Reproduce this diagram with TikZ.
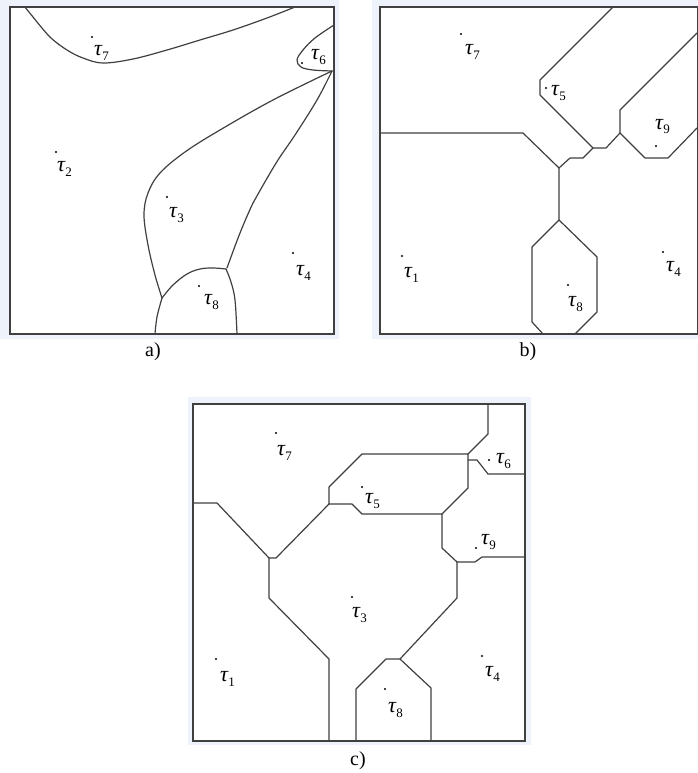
\documentclass[tikz,border=0pt]{standalone}
\usepackage{fontspec}
\setmainfont{Liberation Serif}
\definecolor{bandblue}{RGB}{238,242,250}
\definecolor{edgegray}{RGB}{64,64,64}
% seed label: italic tau with a lowered upright index
\newcommand{\seedlab}[1]{{\itshape τ}\kern0.3pt\raisebox{-5pt}{\fontsize{13}{13}\selectfont #1}}
\begin{document}
\begin{tikzpicture}[x=1pt,y=-1pt,
  cell/.style={draw=edgegray, line width=1.2pt, line join=round, line cap=round},
  framebox/.style={draw=edgegray, line width=1.3pt, fill=white},
  band/.style={fill=bandblue, draw=none},
  seed/.style={circle, fill=black, inner sep=0pt, minimum size=2.4pt},
  lbl/.style={anchor=base west, inner sep=0pt, font=\fontsize{22}{24}\selectfont},
  captext/.style={font=\fontsize{20}{22}\selectfont, inner sep=0pt}]
\useasboundingbox (0,0) rectangle (698,773);

% ---------- panel a: curved cells ----------
\fill[band] (0,0) rectangle (339,339);
\draw[framebox] (10,7) rectangle (334,334);
\draw[cell] plot[smooth, tension=0.6] coordinates {(25,7) (33,17) (50,37) (67,50) (83,58) (103,63) (133,59) (167,50) (200,40) (233,30) (267,18) (295,7)};
\draw[cell] plot[smooth, tension=0.6] coordinates {(334,25) (315,38) (303,50) (297,60) (301,67) (313,70) (332,71)};
\draw[cell] plot[smooth, tension=0.6] coordinates {(332,71) (273,100) (220,130) (185,152) (160,173) (148,193) (144,215) (148,245) (155,275) (162,298)};
\draw[cell] plot[smooth, tension=0.6] coordinates {(332,71) (317,100) (295,135) (278,160) (262,187) (253,203) (240,233) (227,268)};
\draw[cell] plot[smooth, tension=0.6] coordinates {(162,298) (173,285) (187,274) (200,269) (213,268) (226,269)};
\draw[cell] plot[smooth, tension=0.6] coordinates {(162,298) (157,317) (155,334)};
\draw[cell] plot[smooth, tension=0.6] coordinates {(226,269) (231,282) (235,300) (237,334)};

\node[seed] (as7) at (92,37) {};  \node[lbl] (at7) at (94,56)  {\seedlab{7}};
\node[seed] (as6) at (302,63) {}; \node[lbl] (at6) at (311,60) {\seedlab{6}};
\node[seed] (as2) at (56,152) {}; \node[lbl] (at2) at (57,171) {\seedlab{2}};
\node[seed] (as3) at (167,197) {};\node[lbl] (at3) at (169,217) {\seedlab{3}};
\node[seed] (as4) at (293,253) {};\node[lbl] (at4) at (296,275) {\seedlab{4}};
\node[seed] (as8) at (199,286) {};\node[lbl] (at8) at (204,304) {\seedlab{8}};
\node[captext] (capa) at (153,352) {a)};

% ---------- panel b: polygonal cells ----------
\fill[band] (372,0) rectangle (698,339);
\draw[framebox] (380,7) rectangle (697.4,334);
\draw[cell] (380,133) -- (523,133) -- (559,168) -- (559,220);
\draw[cell] (559,168) -- (570,158) -- (583,158) -- (593,148) -- (606,148) -- (620,133);
\draw[cell] (593,148) -- (540,95) -- (540,80) -- (613,7);
\draw[cell] (620,133) -- (620,110) -- (697,33);
\draw[cell] (620,133) -- (645,158) -- (668,158) -- (697,128);
\draw[cell] (543,334) -- (532,322) -- (532,247) -- (559,220) -- (597,257) -- (597,312) -- (575,334);

\node[seed] (bs7) at (461,34) {};  \node[lbl] (bt7) at (465,55)  {\seedlab{7}};
\node[seed] (bs5) at (546,88) {};  \node[lbl] (bt5) at (551,96) {\seedlab{5}};
\node[seed] (bs9) at (656,146) {}; \node[lbl] (bt9) at (655,129) {\seedlab{9}};
\node[seed] (bs1) at (402,256) {}; \node[lbl] (bt1) at (404,277) {\seedlab{1}};
\node[seed] (bs4) at (663,252) {}; \node[lbl] (bt4) at (666,271) {\seedlab{4}};
\node[seed] (bs8) at (568,285) {}; \node[lbl] (bt8) at (568,306) {\seedlab{8}};
\node[captext] (capb) at (528,352) {b)};

% ---------- panel c: polygonal cells ----------
\fill[band] (188,397) rectangle (531,745);
\draw[framebox] (193,404) rectangle (525,741);
\draw[cell] (193,503) -- (217,503) -- (269,558) -- (276,558) -- (329,504);
\draw[cell] (269,558) -- (269,598) -- (329,659) -- (329,741);
\draw[cell] (329,504) -- (352,504) -- (362,514) -- (442,514);
\draw[cell] (329,504) -- (329,487) -- (362,454) -- (468,454);
\draw[cell] (468,454) -- (468,488) -- (442,514);
\draw[cell] (442,514) -- (442,548) -- (457,562) -- (457,598) -- (400,659);
\draw[cell] (457,562) -- (475,562) -- (482,557) -- (525,557);
\draw[cell] (468,454) -- (488,434) -- (488,404);
\draw[cell] (468,460) -- (477,460) -- (488,474) -- (525,474);
\draw[cell] (356,741) -- (356,689) -- (386,659) -- (400,659) -- (431,688) -- (431,741);

\node[seed] (cs7) at (276,433) {}; \node[lbl] (ct7) at (277,455) {\seedlab{7}};
\node[seed] (cs5) at (362,487) {}; \node[lbl] (ct5) at (365,503) {\seedlab{5}};
\node[seed] (cs6) at (489,460) {}; \node[lbl] (ct6) at (496,463) {\seedlab{6}};
\node[seed] (cs9) at (476,548) {}; \node[lbl] (ct9) at (481,544) {\seedlab{9}};
\node[seed] (cs3) at (352,597) {}; \node[lbl] (ct3) at (352,617) {\seedlab{3}};
\node[seed] (cs1) at (216,659) {}; \node[lbl] (ct1) at (220,681) {\seedlab{1}};
\node[seed] (cs4) at (482,656) {}; \node[lbl] (ct4) at (485,676) {\seedlab{4}};
\node[seed] (cs8) at (385,689) {}; \node[lbl] (ct8) at (388,712) {\seedlab{8}};
\node[captext] (capc) at (358,761) {c)};
\end{tikzpicture}
\end{document}
